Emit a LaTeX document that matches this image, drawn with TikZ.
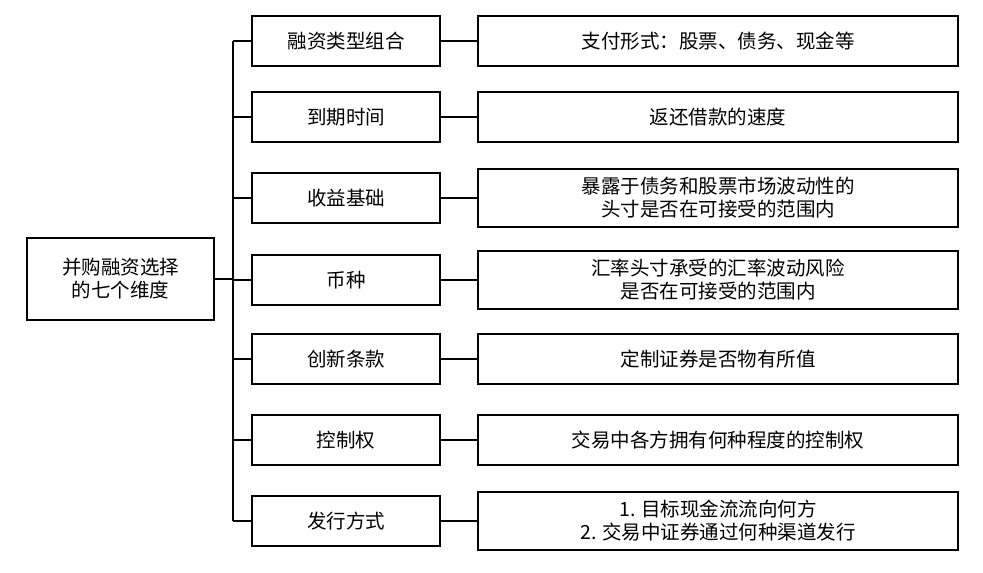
\documentclass[tikz,border=0pt]{standalone}
\usepackage{fontspec}
\setmainfont{Noto Sans CJK SC}
\begin{document}
\begin{tikzpicture}[x=1pt,y=-1pt,
  box/.style={draw,line width=1.2pt,minimum height=50pt,align=center,font=\fontsize{19.5}{23}\selectfont},
  mid/.style={box,minimum width=188pt},
  rgt/.style={box,minimum width=480pt},
  ln/.style={line width=1.2pt}]
\useasboundingbox (0,0) rectangle (983,573);
\node[box,minimum width=187pt,minimum height=82pt] (root) at (120.5,279) {并购融资选择\\的七个维度};
\coordinate (bt) at (233,41);
\coordinate (bb) at (233,521);
\draw[ln] (bt) -- (bb);
\draw[ln] (root.east) -- (233,279);
\foreach \i/\y/\a/\b/\h in {
 1/41/融资类型组合/支付形式：股票、债务、现金等/50,
 2/117/到期时间/返还借款的速度/50,
 3/198/收益基础/暴露于债务和股票市场波动性的\\头寸是否在可接受的范围内/58,
 4/280/币种/汇率头寸承受的汇率波动风险\\是否在可接受的范围内/58,
 5/359/创新条款/定制证券是否物有所值/50,
 6/440/控制权/交易中各方拥有何种程度的控制权/50,
 7/521/发行方式/1. 目标现金流流向何方\\2. 交易中证券通过何种渠道发行/58}{
  \node[mid] (m\i) at (346,\y) {\a};
  \node[rgt,minimum height=\h pt] (r\i) at (718,\y) {\b};
  \draw[ln] (233,\y) -- (m\i.west);
  \draw[ln] (m\i.east) -- (r\i.west);
}
\end{tikzpicture}
\end{document}
